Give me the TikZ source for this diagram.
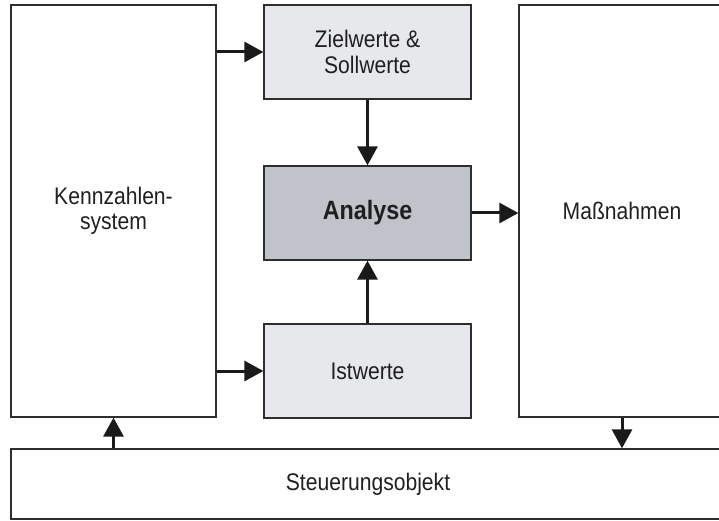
\documentclass[tikz,border=0pt]{standalone}
\usepackage{fontspec}
\setmainfont{Liberation Sans}[FakeStretch=0.88]
\usetikzlibrary{arrows.meta}
\definecolor{lightbox}{HTML}{E6E8EC}
\definecolor{darkbox}{HTML}{C0C3C9}
\definecolor{edge}{HTML}{2E2E2E}
\definecolor{arr}{HTML}{1A1A1A}
\begin{document}
\begin{tikzpicture}[x=1pt,y=-1pt,
  box/.style={draw=edge,line width=1.3pt,inner sep=0pt,align=center,
    font=\fontsize{24}{25.5}\selectfont,text=black!88},
  flow/.style={draw=arr,line width=3pt,-{Triangle[length=19pt,width=20pt]}}]
\useasboundingbox (0,0) rectangle (719,521);
\node[box,minimum width=205pt,minimum height=412pt] (kenn) at (113.5,211) {Kennzahlen-\\system};
\node[box,fill=lightbox,minimum width=207pt,minimum height=94pt] (ziel) at (367.5,52) {Zielwerte \&\\Sollwerte};
\node[box,fill=darkbox,minimum width=207pt,minimum height=94pt,font=\fontsize{26.5}{28}\selectfont\bfseries] (ana) at (367.5,213) {Analyse};
\node[box,fill=lightbox,minimum width=207pt,minimum height=94pt] (ist) at (367.5,371) {Istwerte};
\node[box,minimum width=206pt,minimum height=412pt] (mass) at (622,211) {Maßnahmen};
\node[box,minimum width=714pt,minimum height=70pt] (steuer) at (368,484) {Steuerungsobjekt};
\draw[flow] (ziel.west -| kenn.east) -- (ziel.west);
\draw[flow] (ist.west -| kenn.east) -- (ist.west);
\draw[flow] (ziel.south) -- (ana.north);
\draw[flow] (ist.north) -- (ana.south);
\draw[flow] (ana.east) -- (ana.east -| mass.west);
\draw[flow] (steuer.north -| kenn.south) -- (kenn.south);
\draw[flow] (mass.south) -- (mass.south |- steuer.north);
\end{tikzpicture}
\end{document}
